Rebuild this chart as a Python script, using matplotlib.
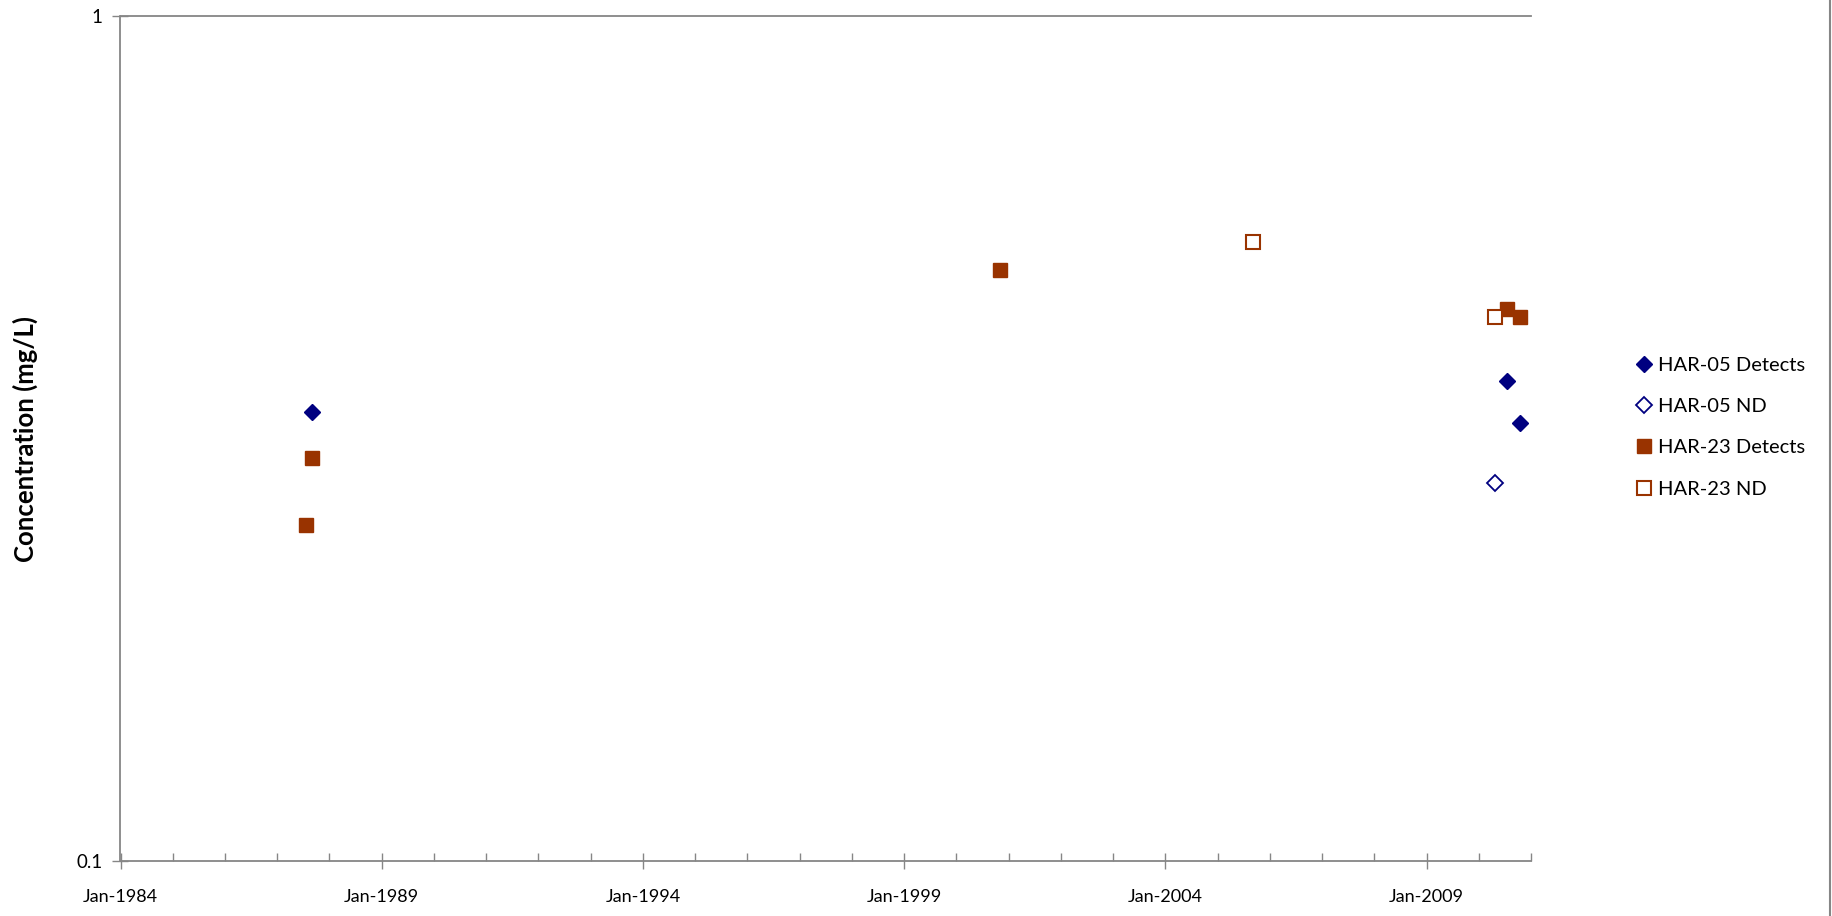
import datetime as dt
import matplotlib
matplotlib.use('Agg')
import matplotlib.pyplot as plt
import matplotlib.dates as mdates
from matplotlib.lines import Line2D
from matplotlib.ticker import FixedLocator, NullLocator

# data (mg/L)
har05_det_dates = [dt.date(1987, 8, 29), dt.date(2010, 7, 19), dt.date(2010, 10, 16)]
har05_det_vals = [0.34, 0.37, 0.33]
har05_nd_dates = [dt.date(2010, 4, 23)]
har05_nd_vals = [0.28]
har23_det_dates = [dt.date(1987, 8, 29), dt.date(1987, 7, 22), dt.date(2000, 10, 31),
                   dt.date(2010, 7, 19), dt.date(2010, 10, 16)]
har23_det_vals = [0.30, 0.25, 0.50, 0.45, 0.44]
har23_nd_dates = [dt.date(2005, 9, 2), dt.date(2010, 4, 23)]
har23_nd_vals = [0.54, 0.44]

major_years = [1984, 1989, 1994, 1999, 2004, 2009]

blue = '#000080'
brown = '#993300'
grey = '#868686'
text_font = ['Lato', 'DejaVu Sans']

fig = plt.figure(figsize=(18.32, 9.16), dpi=100)
ax = fig.add_axes([120.5 / 1832, 55 / 916, (1531 - 120.5) / 1832, (861 - 16) / 916])

ax.plot(har05_det_dates, har05_det_vals, 'D', ms=8, color=blue, mec=blue, label='HAR-05 Detects')
ax.plot(har05_nd_dates, har05_nd_vals, 'D', ms=8, mfc='white', mec=blue, mew=1.3, label='HAR-05 ND')
ax.plot(har23_det_dates, har23_det_vals, 's', ms=10.5, color=brown, mec=brown, label='HAR-23 Detects')
ax.plot(har23_nd_dates, har23_nd_vals, 's', ms=10.5, mfc='white', mec=brown, mew=1.5, label='HAR-23 ND')

ax.set_yscale('log')
ax.set_ylim(0.1, 1)
ax.yaxis.set_major_locator(FixedLocator([0.1, 1]))
ax.yaxis.set_minor_locator(NullLocator())
ax.set_yticklabels(['0.1', '1'])

ax.set_xlim(dt.date(1984, 1, 1), dt.date(2011, 1, 1))
ax.xaxis.set_major_locator(FixedLocator([mdates.date2num(dt.date(y, 1, 1)) for y in major_years]))
ax.xaxis.set_minor_locator(mdates.YearLocator(1))
ax.xaxis.set_major_formatter(mdates.DateFormatter('%b-%Y'))

for side in ['left', 'bottom', 'top']:
    ax.spines[side].set_color(grey)
    ax.spines[side].set_linewidth(1.3)
ax.spines['right'].set_visible(False)

ax.tick_params(axis='x', which='major', direction='inout', length=12, width=1, color=grey, pad=14,
               labelsize=13)
ax.tick_params(axis='x', which='minor', direction='in', length=6, width=1, color=grey)
ax.tick_params(axis='y', which='major', direction='inout', length=12, width=1, color=grey, pad=7,
               labelsize=13.5)
ax.tick_params(top=False)
for lbl in ax.get_xticklabels() + ax.get_yticklabels():
    lbl.set_family(text_font)

ax.set_ylabel('Concentration (mg/L)', fontsize=18.5, fontweight='bold', family=text_font)
ax.yaxis.set_label_coords(-0.0585, 0.5)

fig.legend(loc='center left', bbox_to_anchor=(1637 / 1832, 0.5335), frameon=False,
           prop={'family': text_font, 'size': 14.5}, handlelength=0.7, handletextpad=0.35,
           labelspacing=1.2, borderaxespad=0, borderpad=0)

# chart frame edge on the right
fig.add_artist(Line2D([1830 / 1832, 1830 / 1832], [0, 1], color=grey, lw=1.5))

fig.savefig('out.png', dpi=100)
